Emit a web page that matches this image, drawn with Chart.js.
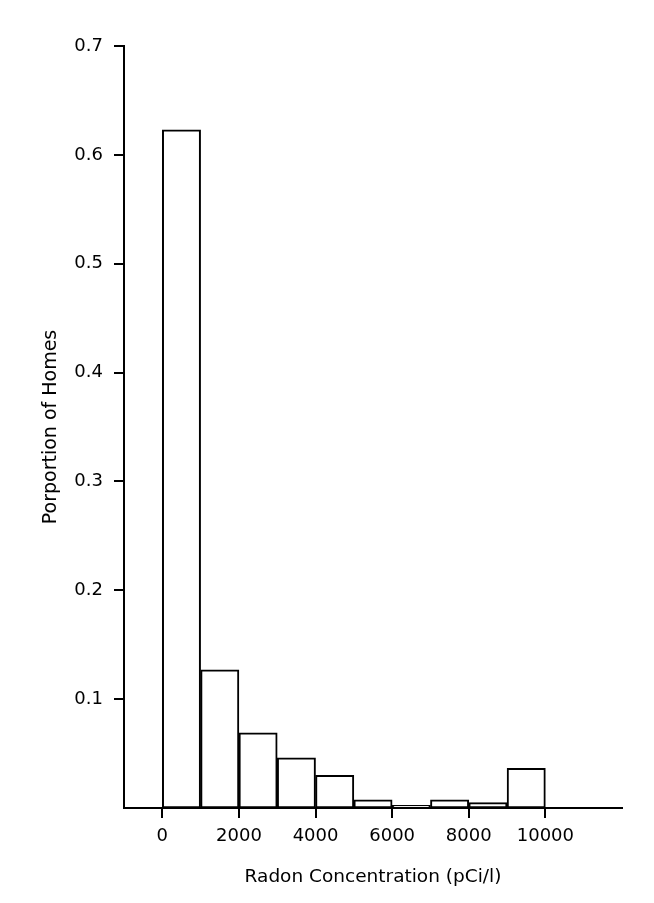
<!DOCTYPE html>
<html>
<head>
<meta charset="utf-8">
<script src="https://cdn.jsdelivr.net/npm/chart.js@4"></script>
<style>
  html, body { margin: 0; padding: 0; background: #fff; }
  #wrap { width: 654px; height: 903px; }
</style>
</head>
<body>
<div id="wrap"><canvas id="hist" width="654" height="903"></canvas></div>
<script>
// Histogram bins (pCi/l), each 1000 wide
const binStarts = [0, 1000, 2000, 3000, 4000, 5000, 6000, 7000, 8000, 9000];
const binWidth = 1000;
const proportions = [0.623, 0.127, 0.069, 0.046, 0.030, 0.0074, 0.0025, 0.0074, 0.0049, 0.0365];

const xTickValues = [0, 2000, 4000, 6000, 8000, 10000];
const yTickValues = [0.1, 0.2, 0.3, 0.4, 0.5, 0.6, 0.7];

const xTitle = 'Radon Concentration (pCi/l)';
const yTitle = 'Porportion of Homes';

const FONT = "'DejaVu Sans', sans-serif";
const INK = '#000';

const points = binStarts.map((s, i) => ({ x: s + binWidth / 2, y: proportions[i] }));

const axisGrid = {
    drawOnChartArea: false,
    drawTicks: true,
    tickLength: 10,
    color: INK,
    lineWidth: 2
};

new Chart(document.getElementById('hist'), {
    type: 'bar',
    data: {
        datasets: [{
            data: points,
            backgroundColor: '#fff',
            borderColor: INK,
            borderWidth: 2,
            borderSkipped: false,
            barPercentage: 1,
            categoryPercentage: 1
        }]
    },
    options: {
        responsive: false,
        animation: false,
        layout: { padding: { left: 0, right: 32, top: 46, bottom: 0 } },
        plugins: {
            legend: { display: false },
            tooltip: { enabled: false }
        },
        scales: {
            x: {
                type: 'linear',
                min: -1000,
                max: 12000,
                offset: false,
                grid: Object.assign({ offset: false }, axisGrid),
                border: { display: true, color: INK, width: 2 },
                afterBuildTicks: scale => { scale.ticks = xTickValues.map(v => ({ value: v })); },
                afterFit: scale => { scale.height = 95; },
                ticks: {
                    color: INK,
                    padding: 8,
                    maxRotation: 0,
                    autoSkip: false,
                    font: { family: FONT, size: 18 },
                    callback: v => String(v)
                },
                title: {
                    display: true,
                    text: xTitle,
                    color: INK,
                    padding: { top: 0, bottom: 15 },
                    font: { family: FONT, size: 18.5 }
                }
            },
            y: {
                min: 0,
                max: 0.7,
                grid: axisGrid,
                border: { display: true, color: INK, width: 2 },
                afterBuildTicks: scale => { scale.ticks = yTickValues.map(v => ({ value: v })); },
                afterFit: scale => { scale.width = 124; },
                ticks: {
                    color: INK,
                    padding: 11,
                    autoSkip: false,
                    font: { family: FONT, size: 18 },
                    callback: v => String(Math.round(v * 10) / 10)
                },
                title: {
                    display: true,
                    text: yTitle,
                    color: INK,
                    padding: { top: 40 },
                    font: { family: FONT, size: 19 }
                }
            }
        }
    }
});
</script>
</body>
</html>
